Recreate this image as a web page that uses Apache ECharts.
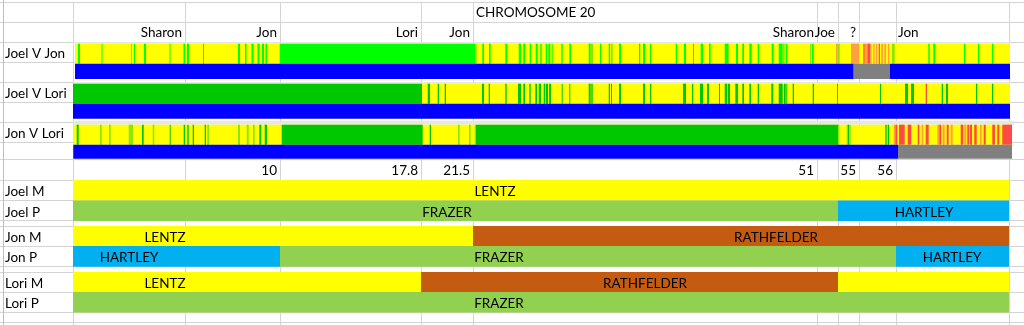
<!DOCTYPE html>
<html><head><meta charset="utf-8">
<script src="https://cdn.jsdelivr.net/npm/echarts@6/dist/echarts.min.js"></script>
<style>html,body{margin:0;padding:0;background:#fff}#c{width:1024px;height:325px}</style>
</head><body><div id="c"></div>
<script>
// ---------------- DATA ----------------
const TITLE = 'CHROMOSOME 20';
const COMPARISONS = ['Joel V Jon', 'Joel V Lori', 'Jon V Lori'];
const PARENT_ROWS = ['Joel M', 'Joel P', 'Jon M', 'Jon P', 'Lori M', 'Lori P'];
const HEADER_NAMES = ['Sharon', 'Jon', 'Lori', 'Jon', 'Sharon', 'Joe', '?', 'Jon'];
const HEADER_NAME_POS = [112, 207, 348, 400, 744, 765, 786, 823];
const TICK_LABELS = ['10', '17.8', '21.5', '51', '55', '56'];
const TICK_POS = [207, 348, 400, 744, 786, 823];

// comparison strips: [start, end, state]
const JOEL_V_JON_BASE = [[2, 937, 'Y'], [206.7, 402.3, 'G']];
const JOEL_V_JON_STRIPES = [
  [5,7,'G'],[28.5,29.5,'G'],[58,59,'L'],[61,62,'G'],[71,73,'G'],[96.5,97.5,'G'],[110.5,112,'G'],[114,116,'G'],[130,131,'G'],
  [165,167,'G'],[172,173.5,'G'],[178.5,180.5,'G'],[184.5,186.5,'G'],[189,191,'G'],[192.5,194,'G'],
  [402.3,403.7,'L'],[409.3,411,'G'],[416,417.7,'G'],[432.3,434.3,'G'],[445.7,448,'G'],[450.3,452.3,'G'],[456.7,458,'G'],
  [462.7,464.7,'G'],[467.3,468.7,'G'],[472.7,474,'G'],[475.3,477.3,'G'],[478.7,479.7,'G'],[488.3,489.7,'G'],[496.3,498,'G'],
  [515.7,517.7,'G'],[517.7,520,'L'],[527,528.3,'G'],[535.7,537,'G'],[537.7,539.7,'L'],[546,548,'G'],[566,567.3,'G'],
  [570,572.3,'G'],[577,578.3,'G'],[602.7,604,'G'],[611,613,'G'],[620,621,'G'],[627.7,630,'G'],[636,637.7,'G'],
  [651.7,655,'G'],[655,656.3,'L'],[663,665,'G'],[669.3,671,'G'],[676.3,678.7,'G'],[684.7,686,'G'],[698.7,700.7,'G'],
  [705.7,709.7,'G'],[709.7,711.7,'L'],[712.7,714.3,'G'],[737,738.3,'L'],[739,740.7,'G'],
  [763,764.7,'O'],[764.7,766.7,'L'],[778,786.3,'O'],[790.3,791.7,'R'],[792,794,'O'],[794.3,797,'R'],[797,798.5,'O'],
  [800.3,801.7,'O'],[803,804.3,'O'],[805.7,807,'R'],[808.3,810,'O'],[811.3,813,'O'],[815,816.3,'O'],[819,821.7,'L'],
  [855.3,856.7,'G'],[860.3,862.3,'G'],[891,892.3,'G'],[905,906.3,'G'],[919,920.3,'G']
];
const JOEL_V_JON_MATCH = [[2, 780.7, 'B'], [780.7, 817, 'N'], [817, 937, 'B']];

const JOEL_V_LORI_BASE = [[0, 937, 'Y'], [0, 349, 'D']];
const JOEL_V_LORI_STRIPES = [
  [354.7,357,'D'],[364.7,366,'D'],[371.7,373,'D'],[409,411,'D'],[415.7,417,'D'],[432.3,433.7,'D'],[445,448,'D'],
  [450.3,452,'D'],[456.3,457.7,'D'],[462.3,464,'D'],[465.7,468,'D'],[470.7,472.3,'D'],[473,475,'D'],[476,478,'D'],
  [488.7,489.7,'D'],[496.3,497.3,'D'],[515.7,517.7,'D'],[518.3,519.7,'D'],[535.7,537,'D'],[538,539,'D'],[546,548,'D'],
  [570,572,'D'],[577,578.3,'D'],[610,613,'D'],[619,620.3,'D'],[627,630,'D'],[634,636,'D'],[646,647,'D'],
  [651.7,654.3,'D'],[655,657,'D'],[662.3,665,'D'],[669.3,671,'D'],[676.3,678,'D'],[684.7,686,'D'],[698.3,700.3,'D'],
  [705.7,709.7,'D'],[711,712.7,'D'],[713.3,714.3,'D'],[719.7,721,'D'],[739.7,741,'D'],[764,765,'R'],
  [807,808,'D'],[832,835,'D'],[838,841,'D'],[852.7,854,'R'],[868.7,870,'D'],[873,875,'D'],[903,904.3,'D'],[919,920.3,'D']
];
const JOEL_V_LORI_MATCH = [[0, 937, 'B']];

const JON_V_LORI_BASE = [[0.3, 939, 'Y'], [208.7, 349.7, 'D'], [403, 765, 'D']];
const JON_V_LORI_STRIPES = [
  [3.7,5.7,'D'],[27,28.7,'L'],[36,37.7,'L'],[55.7,60,'L'],[69,70.7,'D'],[79.7,81.3,'L'],[96.7,97.7,'D'],[110.7,112,'D'],
  [114.3,115.7,'D'],[119.7,121,'D'],[131.7,133,'D'],[134.3,136,'L'],[165,167,'L'],[173.7,175.7,'L'],[180,181.7,'L'],
  [186.3,188.3,'D'],[191.7,194,'D'],
  [356.7,358,'D'],[385,386.7,'L'],[396,397.7,'L'],[401.7,403,'L'],
  [765,766.3,'L'],[773.7,775,'L'],[775,776.3,'D'],[776.3,777.7,'L'],[812.3,813.7,'D'],[814.7,816,'D'],
  [820.7,822,'O'],[822.3,824.3,'R'],[826,831.7,'R'],[834.7,838.3,'R'],[844.7,846.3,'R'],[848.7,850.3,'O'],
  [852.7,855.7,'R'],[864.3,866.3,'O'],[866.3,868.3,'R'],[869.7,871.7,'O'],[873.7,875.7,'R'],[877.7,879.7,'O'],
  [887.7,890.3,'R'],[891.3,893.3,'O'],[894.3,896.3,'R'],[897,899,'R'],[901.3,903.7,'R'],[907,908.7,'O'],
  [910.7,912.7,'R'],[919.3,922,'R'],[924.3,926.3,'R'],[929.3,939,'R']
];
const JON_V_LORI_MATCH = [[0.3, 825, 'B'], [825, 939, 'N']];

// parent rows: [start, end, surname, labelAt]
const JOEL_M = [[0, 936, 'LENTZ', 422]];
const JOEL_P = [[0, 765, 'FRAZER', 374], [765, 936, 'HARTLEY', 851]];
const JON_M = [[0, 400, 'LENTZ', 92], [400, 936, 'RATHFELDER', 703]];
const JON_P = [[0, 207, 'HARTLEY', 56], [207, 823, 'FRAZER', 426], [823, 936, 'HARTLEY', 879]];
const LORI_M = [[0, 348, 'LENTZ', 92], [348, 765, 'RATHFELDER', 572], [765, 936, null, null]];
const LORI_P = [[0, 936, 'FRAZER', 426]];

// spreadsheet column edges (same units as the x axis)
const COLUMN_EDGES = [0, 112, 207, 348, 400, 744, 765, 786, 823, 936];

// ---------------- LAYOUT / STYLE ----------------
const STATE_COLORS = {Y:'#FFFF00', G:'#00FF00', D:'#00C800', L:'#8CE600', O:'#FFA040', R:'#FF4848', B:'#0000FF', N:'#808080'};
const SURNAME_COLORS = {LENTZ:'#FFFF00', FRAZER:'#92D050', HARTLEY:'#00B0F0', RATHFELDER:'#C55A11'};
// per comparison: [frameTop, stripTop, stripBottom, matchBottom]
const COMP_BANDS = [[42, 43.7, 63.7, 79], [82, 83.7, 103.7, 118.7], [121, 124.7, 144.7, 158.7]];
const COMP_LABEL_Y = [53.5, 93.5, 133.5];
const PARENT_BANDS = [[180, 200.5], [200.5, 221], [226, 246], [246, 266.8], [272, 292], [292, 312.6]];
const ROW_LINES = [2, 22, 42, 62, 82, 102, 122, 142, 159, 180, 200, 220, 226, 246, 266, 272, 292, 312, 322];
const FONT = 'Lato, "Open Sans", sans-serif';
const FS = 13.5;
const LABEL_X = -68;

// ---------------- BUILD ----------------
const compSets = [
  [JOEL_V_JON_BASE, JOEL_V_JON_STRIPES, JOEL_V_JON_MATCH],
  [JOEL_V_LORI_BASE, JOEL_V_LORI_STRIPES, JOEL_V_LORI_MATCH],
  [JON_V_LORI_BASE, JON_V_LORI_STRIPES, JON_V_LORI_MATCH]
];
const stripData = [], stripColors = [];
compSets.forEach((set, ci) => {
  set.forEach((list, li) => {
    list.forEach(s => {
      stripData.push([s[0], s[1], ci, li === 2 ? 1 : 0]);
      stripColors.push(STATE_COLORS[s[2]]);
    });
  });
});
const frameData = COMPARISONS.map((n, i) => [0, i === 2 ? 941 : 937, i]);

const parentSets = [JOEL_M, JOEL_P, JON_M, JON_P, LORI_M, LORI_P];
const parentData = [], parentColors = [], parentLabelData = [], parentLabelText = [];
parentSets.forEach((list, ri) => {
  list.forEach(s => {
    const col = s[2] ? SURNAME_COLORS[s[2]] : SURNAME_COLORS.LENTZ;
    parentData.push([s[0], s[1], ri]);
    parentColors.push(col);
    if (s[2]) { parentLabelData.push([s[3], ri]); parentLabelText.push(s[2]); }
  });
});

const chart = echarts.init(document.getElementById('c'), null, {renderer: 'canvas'});

function rect(api, x0, y0, x1, y1, fill) {
  const a = api.coord([x0, y0]), b = api.coord([x1, y1]);
  return {type: 'rect', shape: {x: a[0], y: a[1], width: b[0] - a[0], height: b[1] - a[1]}, style: {fill: fill}};
}
function txt(api, x, y, text, align, dx) {
  const p = api.coord([x, y]);
  return {type: 'text', x: p[0] + (dx || 0), y: p[1],
    style: {text: text, fill: '#000', font: FS + 'px ' + FONT, textAlign: align, textVerticalAlign: 'middle'}};
}

const base = {type: 'custom', coordinateSystem: 'cartesian2d', clip: false, silent: true, animation: false};

chart.setOption({
  animation: false,
  grid: {left: 73, right: 0, top: 0, bottom: 0},
  xAxis: {type: 'value', min: 0, max: 951, show: false},
  yAxis: {type: 'value', min: 0, max: 325, inverse: true, show: false},
  series: [
    Object.assign({}, base, { // vertical sheet gridlines
      name: 'columns', z: 1, data: COLUMN_EDGES.map(v => [v]),
      renderItem: (p, api) => {
        const a = api.coord([api.value(0), 2]), b = api.coord([api.value(0), 325]);
        const x = Math.round(a[0]) + 0.5;
        return {type: 'line', shape: {x1: x, y1: a[1], x2: x, y2: b[1]}, style: {stroke: '#D4D4D4', lineWidth: 1}};
      }
    }),
    Object.assign({}, base, { // horizontal sheet gridlines
      name: 'rows', z: 1, data: ROW_LINES.map(v => [v]),
      renderItem: (p, api) => {
        const a = api.coord([-73, api.value(0)]), b = api.coord([951, api.value(0)]);
        const y = Math.round(a[1]) + 0.5;
        return {type: 'line', shape: {x1: a[0], y1: y, x2: b[0], y2: y}, style: {stroke: '#D4D4D4', lineWidth: 1}};
      }
    }),
    Object.assign({}, base, { // row header border
      name: 'header', z: 2, data: [[-69.7]],
      renderItem: (p, api) => {
        const a = api.coord([api.value(0), 0]), b = api.coord([api.value(0), 325]);
        const x = Math.round(a[0]) + 0.5;
        return {type: 'line', shape: {x1: x, y1: 0, x2: x, y2: b[1]}, style: {stroke: '#BDBDBD', lineWidth: 1}};
      }
    }),
    Object.assign({}, base, { // image frames
      name: 'frames', z: 3, data: frameData,
      renderItem: (p, api) => {
        const b = COMP_BANDS[api.value(2)];
        return rect(api, api.value(0), b[0], api.value(1), b[1], '#E6E6E6');
      }
    }),
    Object.assign({}, base, { // comparison strips
      name: 'strips', z: 4, data: stripData,
      renderItem: (p, api) => {
        const b = COMP_BANDS[api.value(2)];
        const top = api.value(3) === 1 ? b[2] : b[1];
        const bot = api.value(3) === 1 ? b[3] : b[2];
        return rect(api, api.value(0), top, api.value(1), bot, stripColors[p.dataIndex]);
      }
    }),
    Object.assign({}, base, { // parent haplotype bars
      name: 'parents', z: 4, data: parentData,
      renderItem: (p, api) => {
        const b = PARENT_BANDS[api.value(2)];
        return rect(api, api.value(0), b[0], api.value(1), b[1], parentColors[p.dataIndex]);
      }
    }),
    Object.assign({}, base, { // parent labels
      name: 'parentLabels', z: 6, data: parentLabelData,
      renderItem: (p, api) => {
        const b = PARENT_BANDS[api.value(1)];
        return txt(api, api.value(0), (b[0] + b[1]) / 2 + 1.5, parentLabelText[p.dataIndex], 'center');
      }
    }),
    Object.assign({}, base, { // row labels
      name: 'rowLabels', z: 6, data: COMPARISONS.map((n, i) => [LABEL_X, COMP_LABEL_Y[i]]).concat(
        PARENT_ROWS.map((n, i) => [LABEL_X, (PARENT_BANDS[i][0] + PARENT_BANDS[i][1]) / 2 + 1.5])),
      renderItem: (p, api) => {
        const names = COMPARISONS.concat(PARENT_ROWS);
        return txt(api, api.value(0), api.value(1), names[p.dataIndex], 'left');
      }
    }),
    Object.assign({}, base, { // header names
      name: 'names', z: 6, data: HEADER_NAME_POS.map(v => [v]),
      renderItem: (p, api) => {
        const last = p.dataIndex === HEADER_NAMES.length - 1;
        return txt(api, api.value(0), 33, HEADER_NAMES[p.dataIndex], last ? 'left' : 'right', last ? 2 : -3);
      }
    }),
    Object.assign({}, base, { // position numbers
      name: 'ticks', z: 6, data: TICK_POS.map(v => [v]),
      renderItem: (p, api) => txt(api, api.value(0), 171, TICK_LABELS[p.dataIndex], 'right', -3)
    }),
    Object.assign({}, base, { // title
      name: 'title', z: 6, data: [[400]],
      renderItem: (p, api) => txt(api, api.value(0), 13, TITLE, 'left', 3)
    })
  ]
});
</script></body></html>
